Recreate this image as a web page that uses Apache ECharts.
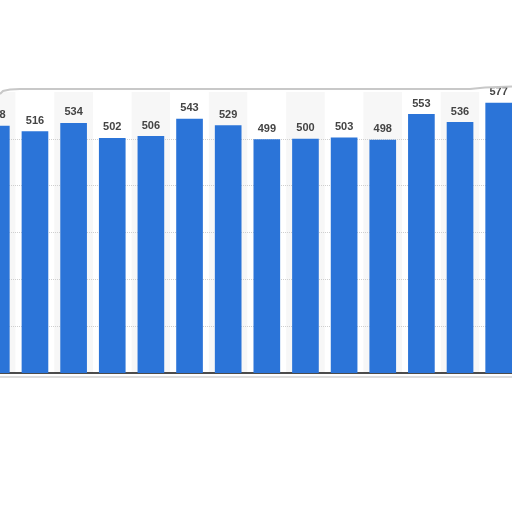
<!DOCTYPE html>
<html>
<head>
<meta charset="utf-8">
<script src="https://cdn.jsdelivr.net/npm/echarts@6/dist/echarts.min.js"></script>
<style>
html,body{margin:0;padding:0;background:#fff;overflow:hidden;width:512px;height:512px;}
#c{position:absolute;left:-23px;top:0;width:541px;height:512px;}
</style>
</head>
<body>
<div id="c"></div>
<script>
var categories = ['1','2','3','4','5','6','7','8','9','10','11','12','13','14'];
var values = [528, 516, 534, 502, 506, 543, 529, 499, 500, 503, 498, 553, 536, 577];
var yTicks = [0, 100, 200, 300, 400, 500, 600];

var OX = 23; // container offset
var chart = echarts.init(document.getElementById('c'), null, {renderer: 'canvas'});
chart.setOption({
  animation: false,
  backgroundColor: '#fff',
  grid: {left: 0, right: 0, top: 92, bottom: 139, containLabel: false},
  xAxis: {
    type: 'category',
    data: categories,
    z: 0,
    axisLine: {show: true, lineStyle: {color: '#111', width: 1.5}},
    axisTick: {show: false},
    axisLabel: {show: false},
    splitArea: {show: true, areaStyle: {color: ['#f7f7f7', '#ffffff']}}
  },
  yAxis: {
    type: 'value',
    z: 1,
    min: yTicks[0],
    max: yTicks[yTicks.length - 1],
    interval: 100,
    axisLine: {show: false},
    axisTick: {show: false},
    axisLabel: {show: false},
    splitLine: {show: true, showMinLine: false, showMaxLine: false, lineStyle: {color: '#cfcfcf', type: 'dotted', width: 1}}
  },
  series: [{
    type: 'bar',
    data: values,
    barWidth: '69%',
    z: 3,
    itemStyle: {color: '#2b74d8'},
    label: {
      show: true,
      position: 'top',
      distance: 5,
      color: '#444',
      fontFamily: 'Liberation Sans, Arial, sans-serif',
      fontWeight: 'bold',
      fontSize: 11
    }
  }],
  graphic: [
    {
      type: 'polyline',
      silent: true,
      z: 100,
      shape: {points: [[OX + 0, 94], [OX + 3, 91], [OX + 10, 89.5], [OX + 20, 89], [OX + 470, 89], [OX + 485, 87.5], [OX + 512, 86.5]]},
      style: {stroke: '#c8c8c8', lineWidth: 2, fill: null}
    },
    {
      type: 'line',
      silent: true,
      shape: {x1: OX, y1: 377, x2: OX + 512, y2: 377},
      style: {stroke: '#dcdcdc', lineWidth: 2}
    }
  ]
});
</script>
</body>
</html>
